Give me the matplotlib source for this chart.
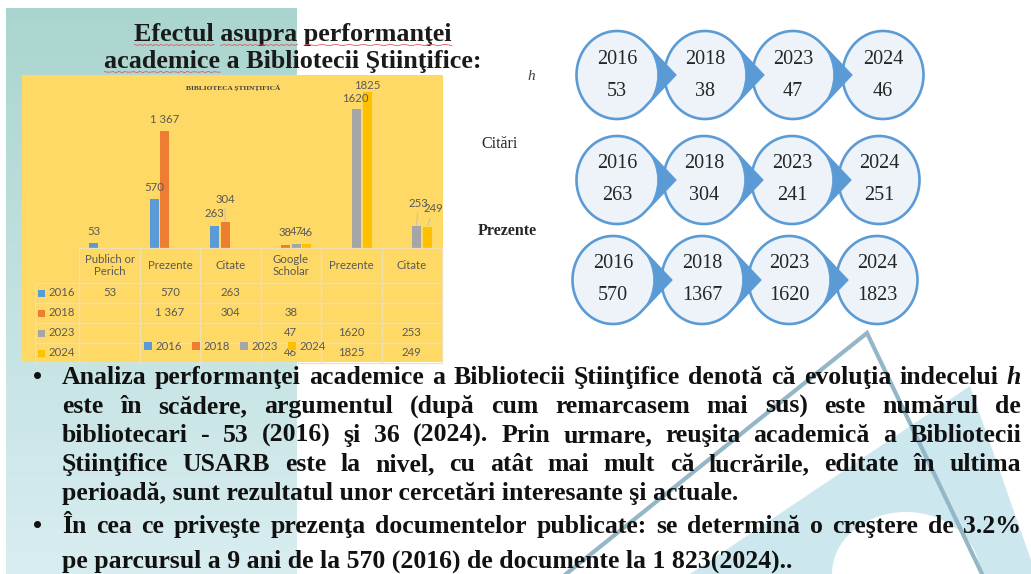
import numpy as np
import matplotlib
matplotlib.use("Agg")
import matplotlib.pyplot as plt
from matplotlib.patches import Rectangle, Polygon, Ellipse, Patch
from matplotlib.table import Table

W, H = 1031, 574

# ---------------- data ----------------
categories = ["Publich or\nPerich", "Prezente", "Citate", "Google\nScholar", "Prezente", "Citate"]
years = ["2016", "2018", "2023", "2024"]
vals_2016 = [53, 570, 263, None, None, None]
vals_2018 = [None, 1367, 304, 38, None, None]
vals_2023 = [None, None, None, 47, 1620, 253]
vals_2024 = [None, None, None, 46, 1825, 249]
series_thousands_sep = [False, True, False, False]
series_colors = ["#5B9BD5", "#ED7D31", "#A5A5A5", "#FFC000"]
chart_title = "BIBLIOTECA ŞTIINŢIFICĂ"

flow_years = ["2016", "2018", "2023", "2024"]
flow_h = [53, 38, 47, 46]
flow_citari = [263, 304, 241, 251]
flow_prezente = [570, 1367, 1620, 1823]
flow_labels = ["h", "Citări", "Prezente"]

title_lines = ["Efectul asupra performanţei", "academice a Bibliotecii Ştiinţifice:"]
para1 = ["Analiza performanţei academice a Bibliotecii Ştiinţifice denotă că evoluţia indecelui h",
         "este în scădere, argumentul (după cum remarcasem mai sus) este numărul de",
         "bibliotecari - 53 (2016) şi 36 (2024). Prin urmare, reuşita academică a Bibliotecii",
         "Ştiinţifice USARB este la nivel, cu atât mai mult că lucrările, editate în ultima",
         "perioadă, sunt rezultatul unor cercetări interesante şi actuale."]
para2 = ["În cea ce priveşte prezenţa documentelor publicate: se determină o creştere de 3.2%",
         "pe parcursul a 9 ani de la 570 (2016) de documente la 1 823(2024).."]

series = [vals_2016, vals_2018, vals_2023, vals_2024]


def fmt(v, sep):
    if v is None:
        return ""
    return f"{v:,}".replace(",", " ") if sep else str(v)


def frac(x0, y0, x1, y1):
    return [x0 / W, 1 - y1 / H, (x1 - x0) / W, (y1 - y0) / H]


fig = plt.figure(figsize=(W / 100, H / 100), dpi=100)
fig.patch.set_facecolor("white")
ax0 = fig.add_axes([0, 0, 1, 1])
ax0.axis("off")
renderer = fig.canvas.get_renderer()

# ---------------- background decoration ----------------
g = np.linspace(0, 1, 256)[:, None, None]
c_top = np.array([0.667, 0.835, 0.812])
c_bot = np.array([0.85, 0.93, 0.945])
img = c_top[None, None, :] * (1 - g) + c_bot[None, None, :] * g
ax0.imshow(img, extent=[6, 297, 574, 8], aspect="auto", zorder=0)
ax0.add_patch(Polygon([(690, 574), (970, 386), (1031, 560), (1031, 574)], closed=True,
                      facecolor="#cde7ef", edgecolor="none", zorder=0.5))
arch_t = np.linspace(0, np.pi, 60)
ax0.add_patch(Polygon(np.c_[906 + 74 * np.cos(arch_t), 574 - 62 * np.sin(arch_t)],
                      closed=True, facecolor="white", edgecolor="none", zorder=0.6))
ax0.plot([566, 867, 982], [574, 333, 574], color="#93b7c6", lw=3, zorder=0.7,
         solid_joinstyle="miter")
ax0.set_xlim(0, W)
ax0.set_ylim(H, 0)

# chart yellow background
ax0.add_patch(Rectangle((22, 75), 421, 287, facecolor="#FFD966", edgecolor="none", zorder=1))

# ---------------- title ----------------
tfont = dict(family="Liberation Serif", weight="bold", color="#1a1a1a")
t_size = 16.0
tt = ax0.text(0, 0, title_lines[1], fontsize=t_size, **tfont)
w = tt.get_window_extent(renderer).width
tt.remove()
t_size = t_size * 381 / w
for line, yb in zip(title_lines, [41, 68]):
    t = ax0.text(293, yb, line, fontsize=t_size, ha="center", va="baseline", zorder=5, **tfont)
    full = t.get_window_extent(renderer)
    # spelling squiggles under some words
    for word in line.split():
        if word in ("Efectul", "asupra", "performanţei", "academice"):
            pre = line[: line.index(word)]
            tp = ax0.text(0, 0, pre + "|", fontsize=t_size, **tfont)
            tw = ax0.text(0, 0, word, fontsize=t_size, **tfont)
            tb = ax0.text(0, 0, "|", fontsize=t_size, **tfont)
            x0 = full.x0 + tp.get_window_extent(renderer).width - tb.get_window_extent(renderer).width
            ww = tw.get_window_extent(renderer).width
            for o in (tp, tw, tb):
                o.remove()
            xs = np.linspace(x0, x0 + ww, 40)
            ax0.plot(xs, yb + 4 + 0.7 * np.sin(xs * 1.2), color="#e05a5a", lw=0.6, zorder=5)

# ---------------- bar chart ----------------
ax1 = fig.add_axes(frac(80, 77, 441.2, 248))
ax1.set_xlim(-0.5, 5.5)
ax1.set_ylim(0, 2000)
ax1.axis("off")
ax1.patch.set_alpha(0)

lab_color = "#595959"
special = {(1, 2): (0, 23, True), (2, 5): (2, 23, True), (3, 5): (6, 18, True),
           (3, 4): (0, 6, False), (2, 4): (-1, 11, False)}
for k, vals in enumerate(series):
    for i, v in enumerate(vals):
        if v is None:
            continue
        x = i + (k - 1.5) * 0.18
        ax1.bar(x, v, width=0.15, color=series_colors[k])
        dx, dy, lead = special.get((k, i), (0, 12, False))
        ap = dict(arrowstyle="-", color="#bfbfbf", lw=0.7, shrinkA=1, shrinkB=1) if lead else None
        ax1.annotate(fmt(v, series_thousands_sep[k]), xy=(x, v), xytext=(dx * 0.72, dy * 0.72),
                     textcoords="offset points", ha="center", va="center", fontsize=8.2,
                     family="Lato", color=lab_color, annotation_clip=False, arrowprops=ap)

ax0.text(233, 88, chart_title, fontsize=5.3, family="Liberation Serif", weight="bold",
         color="#404040", ha="center", va="center", zorder=5)

# ---------------- data table ----------------
axT = fig.add_axes(frac(35, 248, 442, 363))
axT.axis("off")
axT.patch.set_alpha(0)
tbl = Table(axT, bbox=[0, 0, 1, 1])
col_w = [45] + [61.2] * 6
row_h = [35] + [20] * 4
edge = "#EFE0AE"
header = [""] + categories
for j in range(7):
    c = tbl.add_cell(0, j, width=col_w[j], height=row_h[0], text=header[j], loc="center",
                     facecolor="none", edgecolor=edge)
    if j == 0:
        c.visible_edges = "open"
for r, (yr, vals) in enumerate(zip(years, series)):
    row = [yr] + [fmt(v, series_thousands_sep[r]) for v in vals]
    for j in range(7):
        tbl.add_cell(r + 1, j, width=col_w[j], height=row_h[r + 1], text=row[j],
                     loc="right" if j == 0 else "center", facecolor="none", edgecolor=edge)
tbl.auto_set_font_size(False)
for cell in tbl.get_celld().values():
    cell.set_linewidth(0.9)
    cell.get_text().set_fontsize(8.2)
    cell.get_text().set_color(lab_color)
    cell.get_text().set_family("Lato")
axT.add_table(tbl)
for r in range(4):
    yc = 248 + 35 + 20 * r + 10
    ax0.add_patch(Rectangle((38, yc - 3.5), 7, 7, facecolor=series_colors[r], edgecolor="none", zorder=6))

handles = [Patch(facecolor=c, edgecolor="none") for c in series_colors]
fig.legend(handles, years, loc="center", bbox_to_anchor=(235 / W, 1 - 346 / H), ncol=4,
           frameon=False, fontsize=8.2, handlelength=0.7, handleheight=0.7, columnspacing=0.9,
           handletextpad=0.3, labelcolor=lab_color, prop=dict(family="Lato", size=8.2))

# ---------------- circle flow ----------------
rows_cx = [[617, 705, 793, 883], [617, 704, 792, 879], [613, 702, 789, 877]]
rows_cy = [75, 180, 280]
rx, ry, tip = 40.5, 44, 58
fill_c, edge_c, arrow_c = "#EEF3FA", "#5B9BD5", "#5B9BD5"
flow_vals = [flow_h, flow_citari, flow_prezente]
for r, vals in enumerate(flow_vals):
    cy = rows_cy[r]
    for i, (yr, v) in enumerate(zip(flow_years, vals)):
        cx = rows_cx[r][i]
        z = 20 - i
        if i < len(flow_years) - 1:
            dn = tip / rx
            th0 = np.arccos(1 / dn)
            ang = np.linspace(th0, 2 * np.pi - th0, 160)
            pts = np.c_[cx + rx * np.cos(ang), cy + ry * np.sin(ang)]
            pts = np.vstack([pts, [cx + tip, cy]])
            ax0.add_patch(Polygon(pts, closed=True, facecolor=fill_c, edgecolor=edge_c,
                                  lw=1.9, zorder=z, joinstyle="miter"))
            a2 = np.linspace(-th0, th0, 60)
            tri = np.vstack([np.c_[cx + rx * np.cos(a2), cy + ry * np.sin(a2)], [cx + tip, cy]])
            ax0.add_patch(Polygon(tri, closed=True, facecolor=arrow_c, edgecolor=arrow_c,
                                  lw=0.5, zorder=z + 0.1))
        else:
            ax0.add_patch(Ellipse((cx, cy), 2 * rx, 2 * ry, facecolor=fill_c, edgecolor=edge_c,
                                  lw=1.9, zorder=z))
        ax0.text(cx, cy - 16, yr, fontsize=14.5, family="Liberation Serif", color="#262626",
                 ha="center", va="center", zorder=z + 0.2)
        ax0.text(cx, cy + 16, str(v), fontsize=14.5, family="Liberation Serif", color="#262626",
                 ha="center", va="center", zorder=z + 0.2)

ax0.text(531, 77, flow_labels[0], fontsize=11, family="Liberation Serif", style="italic",
         color="#404040", ha="center", va="center", zorder=5)
ax0.text(500, 144, flow_labels[1], fontsize=11.5, family="Liberation Serif",
         color="#262626", ha="center", va="center", zorder=5)
ax0.text(507, 231, flow_labels[2], fontsize=11.5, family="Liberation Serif", weight="bold",
         color="#262626", ha="center", va="center", zorder=5)

# ---------------- bottom text ----------------
bfont = dict(family="Liberation Serif", weight="bold", color="#111111")
b_size = 14.0
tt = ax0.text(0, 0, para1[0], fontsize=b_size, **bfont)
w = tt.get_window_extent(renderer).width
tt.remove()
b_size = b_size * 940 / w
X0, X1 = 62, 1021


def wwidth(s, style="normal"):
    t = ax0.text(0, 0, s, fontsize=b_size, style=style, **bfont)
    ww = t.get_window_extent(renderer).width
    t.remove()
    return ww


def draw_line(line, yb, justify):
    if not justify:
        ax0.text(X0, yb, line, fontsize=b_size, ha="left", va="baseline", zorder=8, **bfont)
        return
    words = line.split()
    styles = ["italic" if (wd == "h" and j == len(words) - 1) else "normal" for j, wd in enumerate(words)]
    widths = [wwidth(wd, st) for wd, st in zip(words, styles)]
    gap = (X1 - X0 - sum(widths)) / (len(words) - 1)
    x = X0
    for wd, st, ww in zip(words, styles, widths):
        ax0.text(x, yb, wd, fontsize=b_size, style=st, ha="left", va="baseline", zorder=8, **bfont)
        x += ww + gap


base1 = [384, 413, 442, 471, 500]
base2 = [533, 568]
for j, (line, yb) in enumerate(zip(para1, base1)):
    draw_line(line, yb, j < len(para1) - 1)
for j, (line, yb) in enumerate(zip(para2, base2)):
    draw_line(line, yb, j < len(para2) - 1)
for yb in (base1[0], base2[0]):
    ax0.text(37, yb, "•", fontsize=b_size, ha="center", va="baseline", zorder=8, **bfont)

fig.savefig("out.png", dpi=100, facecolor="white")
